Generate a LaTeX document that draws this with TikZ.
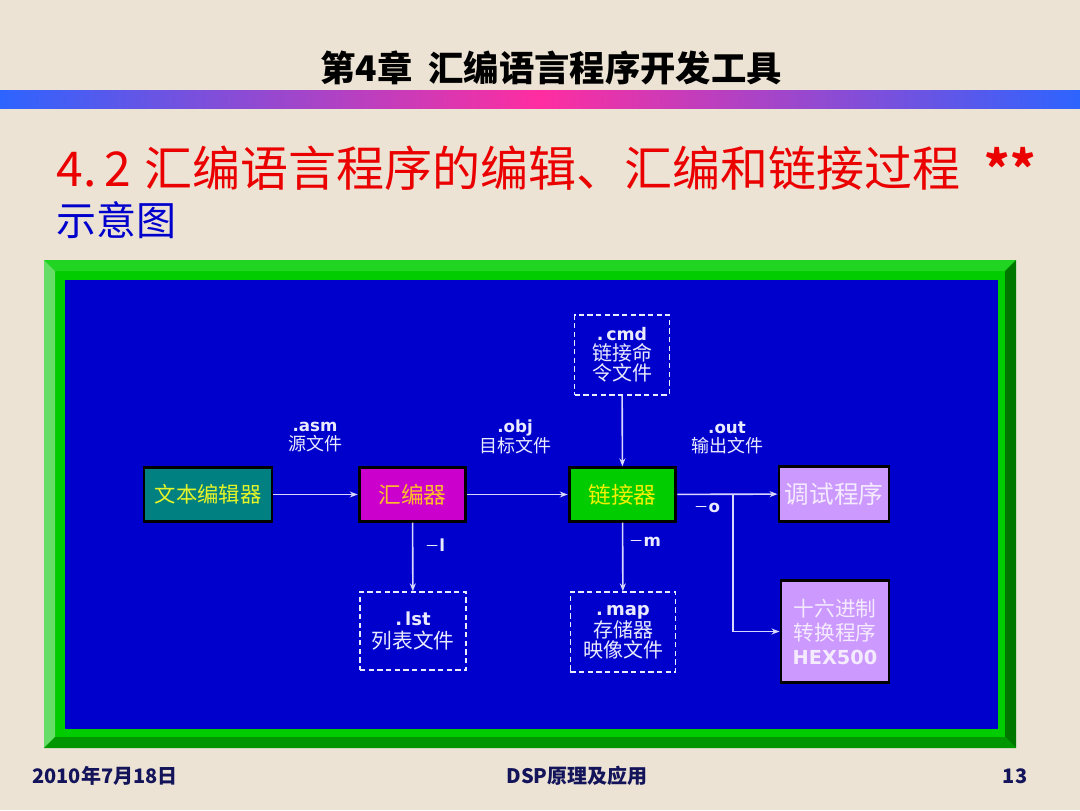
\documentclass[tikz,border=0pt]{standalone}
\usepackage{fontspec}
\setmainfont{Noto Sans CJK SC}
\newfontfamily\verd{DejaVu Sans}
\usetikzlibrary{arrows.meta}
\definecolor{slidebg}{RGB}{236,227,212}
\definecolor{barblue}{RGB}{45,100,255}
\definecolor{barpink}{RGB}{255,45,160}
\definecolor{titlered}{RGB}{235,0,0}
\definecolor{subblue}{RGB}{0,0,205}
\definecolor{footnavy}{RGB}{20,20,90}
\definecolor{panelblue}{RGB}{0,0,204}
\definecolor{framegreen}{RGB}{0,204,0}
\definecolor{frametop}{RGB}{34,212,34}
\definecolor{frameleft}{RGB}{102,221,102}
\definecolor{frameright}{RGB}{0,120,0}
\definecolor{framebot}{RGB}{0,150,0}
\definecolor{edteal}{RGB}{0,128,128}
\definecolor{asmmag}{RGB}{204,0,204}
\definecolor{lnkgreen}{RGB}{0,204,0}
\definecolor{toollav}{RGB}{204,153,255}
\definecolor{filewhite}{RGB}{235,235,255}
\definecolor{arrowwhite}{RGB}{215,215,255}
\definecolor{edyellow}{RGB}{230,245,40}
\definecolor{asmorange}{RGB}{255,190,40}
\definecolor{lnkyellow}{RGB}{240,240,0}
\definecolor{lavtext}{RGB}{245,235,255}

\begin{document}
\begin{tikzpicture}[x=0.75pt,y=-0.75pt]

%
% Styles
%
\tikzstyle{prog} = [rectangle,draw=black,line width=2.2pt,minimum height=40pt,inner sep=0pt]
\tikzstyle{file} = [rectangle,draw=filewhite,line width=1pt,dash pattern=on 4pt off 2.5pt,text=filewhite,align=center,inner sep=0pt]
\tikzstyle{lbl} = [text=filewhite,align=center,inner sep=0pt,font=\fontsize{13.5}{14.5}\selectfont]
\tikzstyle{arr} = [draw=arrowwhite,line width=1.2pt,-{Stealth[length=6pt,width=4.5pt]}]

%
% Slide
%
\fill[slidebg] (0,0) rectangle (1080,810);
\useasboundingbox (0,0) rectangle (1080,810);
\shade[left color=barblue,right color=barpink] (0,90) rectangle (540,108);
\shade[left color=barpink,right color=barblue] (540,90) rectangle (1080,108);

\node (head) at (551,68) {\fontsize{26.5}{30}\selectfont\bfseries 第4章\ \ 汇编语言程序开发工具};
\node[anchor=west,text=titlered] (title) at (52,168)
  {\fontsize{36}{40}\selectfont 4.\kern6pt2\kern10pt 汇编语言程序的编辑、汇编和链接过程\kern18pt\bfseries **};
\node[anchor=west,text=subblue] (sub) at (52,220) {\fontsize{30}{32}\selectfont 示意图};

\node[text=footnavy] (date) at (105,776) {\fontsize{15}{18}\selectfont\bfseries 2010年7月18日};
\node[text=footnavy] (course) at (577,776) {\fontsize{15}{18}\selectfont\bfseries DSP原理及应用};
\node[text=footnavy] (page) at (1015,776) {\fontsize{15}{18}\selectfont\bfseries 13};

%
% Frame
%
\fill[framegreen] (44,260) rectangle (1016,748);
\fill[frametop] (44,260) -- (1016,260) -- (1005,271) -- (55,271) -- cycle;
\fill[frameleft] (44,260) -- (55,271) -- (55,737) -- (44,748) -- cycle;
\fill[frameright] (1016,260) -- (1016,748) -- (1005,737) -- (1005,271) -- cycle;
\fill[framebot] (44,748) -- (1016,748) -- (1005,737) -- (55,737) -- cycle;
\fill[panelblue] (65,280) rectangle (998,729);

%
% Tools
%
\node[prog,fill=edteal,minimum width=96pt,text=edyellow] (ed) at (208,494.5) {\fontsize{16}{18}\selectfont 文本编辑器};
\node[prog,fill=asmmag,minimum width=80pt,text=asmorange] (asm) at (412.5,494.5) {\fontsize{17}{20}\selectfont 汇编器};
\node[prog,fill=lnkgreen,minimum width=80pt,text=lnkyellow] (lnk) at (622.5,494.5) {\fontsize{17}{20}\selectfont 链接器};
\node[prog,fill=toollav,minimum width=82.5pt,minimum height=41.5pt,text=lavtext] (dbg) at (834,494) {\fontsize{18.5}{20}\selectfont 调试程序};
\node[prog,fill=toollav,minimum width=81pt,minimum height=76pt,text=lavtext,align=center,
  font=\fontsize{15.5}{18}\selectfont] (hex) at (835,631.5)
  {十六进制\\转换程序\\{\verd\bfseries\fontsize{14.5}{18}\selectfont HEX500}};

%
% Files
%
\node[file,minimum width=71pt,minimum height=60pt,font=\fontsize{15}{15}\selectfont] (cmd) at (622,355)
  {{\verd\bfseries\fontsize{13}{15}\selectfont .\,cmd}\\链接命\\令文件};
\node[file,minimum width=79.5pt,minimum height=58.5pt,font=\fontsize{15.5}{17.5}\selectfont] (lst) at (413,631)
  {{\verd\bfseries\fontsize{13.5}{17.5}\selectfont .\,lst}\\列表文件};
\node[file,minimum width=79pt,minimum height=60pt,font=\fontsize{15}{15}\selectfont] (map) at (623,632)
  {{\verd\bfseries\fontsize{13.5}{15}\selectfont .\,map}\\存储器\\映像文件};

%
% Labels
%
\node[lbl] (asml) at (315,437) {{\verd\bfseries\fontsize{12.5}{14.5}\selectfont .asm}\\源文件};
\node[lbl] (objl) at (515,437) {{\verd\bfseries\fontsize{12.5}{14.5}\selectfont .obj}\\目标文件};
\node[lbl] (outl) at (727,438) {{\verd\bfseries\fontsize{12.5}{14.5}\selectfont .out}\\输出文件};
\node[lbl] (ol) at (707,508) {\fontsize{11}{14}\selectfont －{\verd\bfseries\fontsize{12.5}{14}\selectfont o}};
\node[lbl] (ll) at (435,545) {\fontsize{11}{14}\selectfont －{\verd\bfseries\fontsize{12.5}{14}\selectfont l}};
\node[lbl] (ml) at (645,542) {\fontsize{11}{14}\selectfont －{\verd\bfseries\fontsize{12.5}{14}\selectfont m}};

%
% Connectors
%
\coordinate (br) at (733,494.5);
\path (ed)  edge [arr] (asm);
\path (asm) edge [arr] (lnk);
\path (lnk) edge [arr] (dbg);
\path (cmd) edge [arr] (lnk);
\path (asm) edge [arr] (lst);
\path (lnk) edge [arr] (map);
\draw[arr] (br) |- (hex);

\end{tikzpicture}
\end{document}
